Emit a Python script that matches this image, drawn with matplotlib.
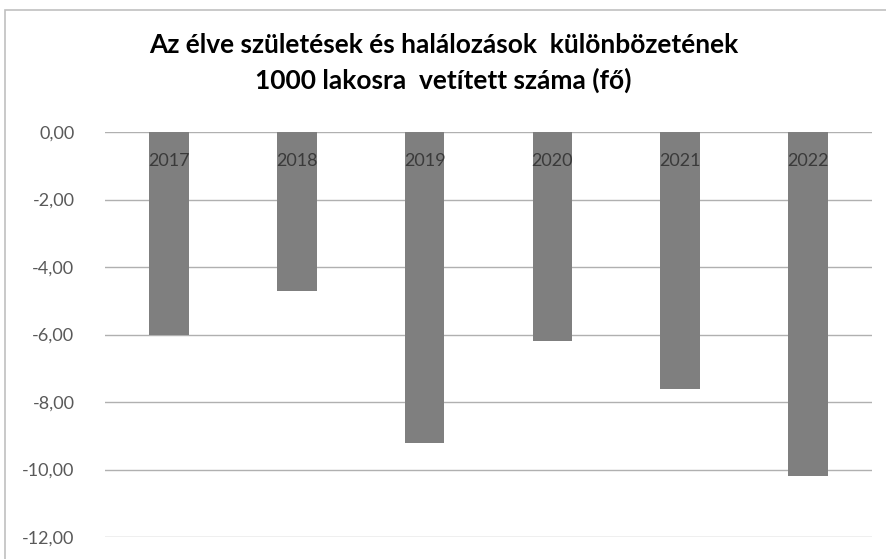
import matplotlib.pyplot as plt
from matplotlib.patches import Rectangle

years = ['2017', '2018', '2019', '2020', '2021', '2022']
values = [-6.0, -4.7, -9.2, -6.2, -7.6, -10.2]
yticks = [0, -2, -4, -6, -8, -10, -12]

plt.rcParams['font.family'] = ['Lato', 'DejaVu Sans']

fig = plt.figure(figsize=(8.87, 5.59), dpi=100)
ax = fig.add_axes([105 / 887, 1 - 537 / 559, 767 / 887, 405 / 559])

x = list(range(len(years)))
ax.bar(x, values, width=0.31, color='#7f7f7f', zorder=3)

# evszamok a sav tetejen
for i, y in enumerate(years):
    ax.text(i, -0.85, y, ha='center', va='center', fontsize=13, color='#3a3a3a', zorder=4)

ax.set_xlim(-0.5, len(years) - 0.5)
ax.set_ylim(-12, 0)
ax.set_yticks(yticks)
ax.set_yticklabels([('%.2f' % v).replace('.', ',') for v in yticks])
ax.tick_params(axis='y', length=0, pad=22, labelsize=13, labelcolor='#595959')
ax.set_xticks([])
ax.grid(axis='y', color='#b0b0b0', linewidth=1, zorder=0)
for s in ax.spines.values():
    s.set_visible(False)

fig.text(0.5, 1 - 45 / 559, 'Az élve születések és halálozások  különbözetének',
         ha='center', va='center', fontsize=19, fontweight='bold')
fig.text(0.5, 1 - 80 / 559, '1000 lakosra  vetített száma (fő)',
         ha='center', va='center', fontsize=19, fontweight='bold')

# keret
fig.patches.append(Rectangle((5 / 887, -0.05), 1.0, 1 - 10 / 559 + 0.05,
                             transform=fig.transFigure, fill=False,
                             edgecolor='#c0c0c0', linewidth=1.2))

fig.savefig('out.png', dpi=100)
